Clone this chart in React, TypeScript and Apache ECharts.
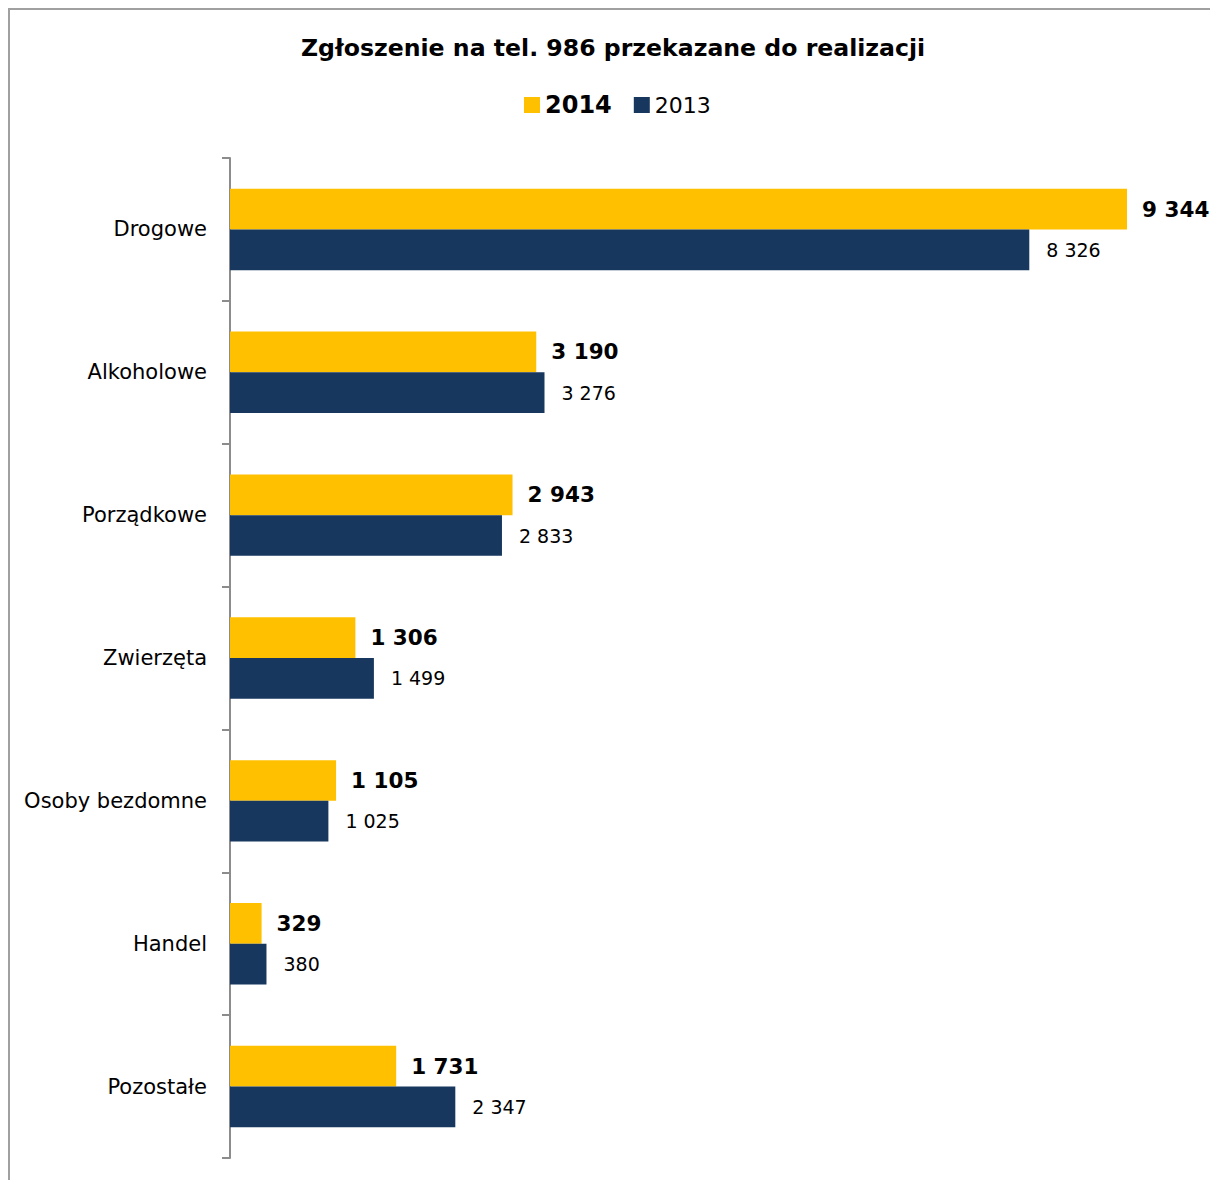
import React, { useEffect, useRef } from "react";
import * as echarts from "echarts";

const categories = ["Drogowe", "Alkoholowe", "Porządkowe", "Zwierzęta", "Osoby bezdomne", "Handel", "Pozostałe"];
const values2014 = [9344, 3190, 2943, 1306, 1105, 329, 1731];
const values2013 = [8326, 3276, 2833, 1499, 1025, 380, 2347];
const seriesNames = ["2014", "2013"];
const titleText = "Zgłoszenie na tel. 986 przekazane do realizacji";

const FONT = "'DejaVu Sans', Verdana, sans-serif";

function fmt(v: number): string {
  return String(v).replace(/\B(?=(\d{3})+(?!\d))/g, " ");
}

export default function App() {
  const ref = useRef<HTMLDivElement>(null);
  useEffect(() => {
    document.body.style.overflow = "hidden";
    const chart = echarts.init(ref.current!, null, { renderer: "svg" });
    chart.setOption({
      animation: false,
      backgroundColor: "#ffffff",
      textStyle: { fontFamily: FONT, color: "#000" },
      title: {
        text: titleText,
        left: 288,
        top: 23,
        textStyle: { fontFamily: FONT, fontSize: 23.6, fontWeight: "bold", color: "#000" },
      },
      legend: {
        data: seriesNames,
        top: 80,
        left: 511,
        itemWidth: 16,
        itemHeight: 16,
        itemGap: 22,
        icon: "rect",
        formatter: (name: string) => (name === "2014" ? `{b|${name}}` : `{n|${name}}`),
        textStyle: {
          fontFamily: FONT,
          color: "#000",
          padding: [0, 0, 0, 0],
          rich: {
            b: { fontFamily: FONT, fontSize: 24, fontWeight: "bold", color: "#000" },
            n: { fontFamily: FONT, fontSize: 22, color: "#000" },
          },
        },
      },
      graphic: [
        { type: "line", shape: { x1: 1, y1: 0, x2: 1, y2: 1172 }, style: { stroke: "#a0a0a0", lineWidth: 2 } },
        { type: "line", shape: { x1: 0, y1: 1, x2: 1202, y2: 1 }, style: { stroke: "#a0a0a0", lineWidth: 2 } },
      ],
      grid: { left: 222, top: 150, width: 960, height: 1000, containLabel: false },
      xAxis: {
        type: "value",
        min: 0,
        max: 10000,
        show: false,
        splitLine: { show: false },
      },
      yAxis: {
        type: "category",
        data: categories,
        inverse: true,
        axisLine: { show: true, lineStyle: { color: "#8c8c8c", width: 2 } },
        axisTick: { show: true, length: 8, alignWithLabel: false, lineStyle: { color: "#8c8c8c", width: 2 } },
        axisLabel: { fontFamily: FONT, fontSize: 21, color: "#000", margin: 23 },
      },
      series: [
        {
          name: "2014",
          type: "bar",
          data: values2014,
          barGap: "0%",
          barCategoryGap: "43%",
          itemStyle: { color: "#FFC000" },
          label: {
            show: true,
            position: "right",
            distance: 15,
            fontFamily: FONT,
            fontSize: 21.5,
            fontWeight: "bold",
            color: "#000",
            formatter: (p: any) => fmt(p.value),
          },
        },
        {
          name: "2013",
          type: "bar",
          data: values2013,
          barGap: "0%",
          barCategoryGap: "43%",
          itemStyle: { color: "#17375E" },
          label: {
            show: true,
            position: "right",
            distance: 17,
            fontFamily: FONT,
            fontSize: 19,
            color: "#000",
            formatter: (p: any) => fmt(p.value),
          },
        },
      ],
    });
    return () => chart.dispose();
  }, []);
  return (
    <div
      ref={ref}
      style={{ position: "absolute", left: 8, top: 8, width: 1202, height: 1172 }}
    />
  );
}
